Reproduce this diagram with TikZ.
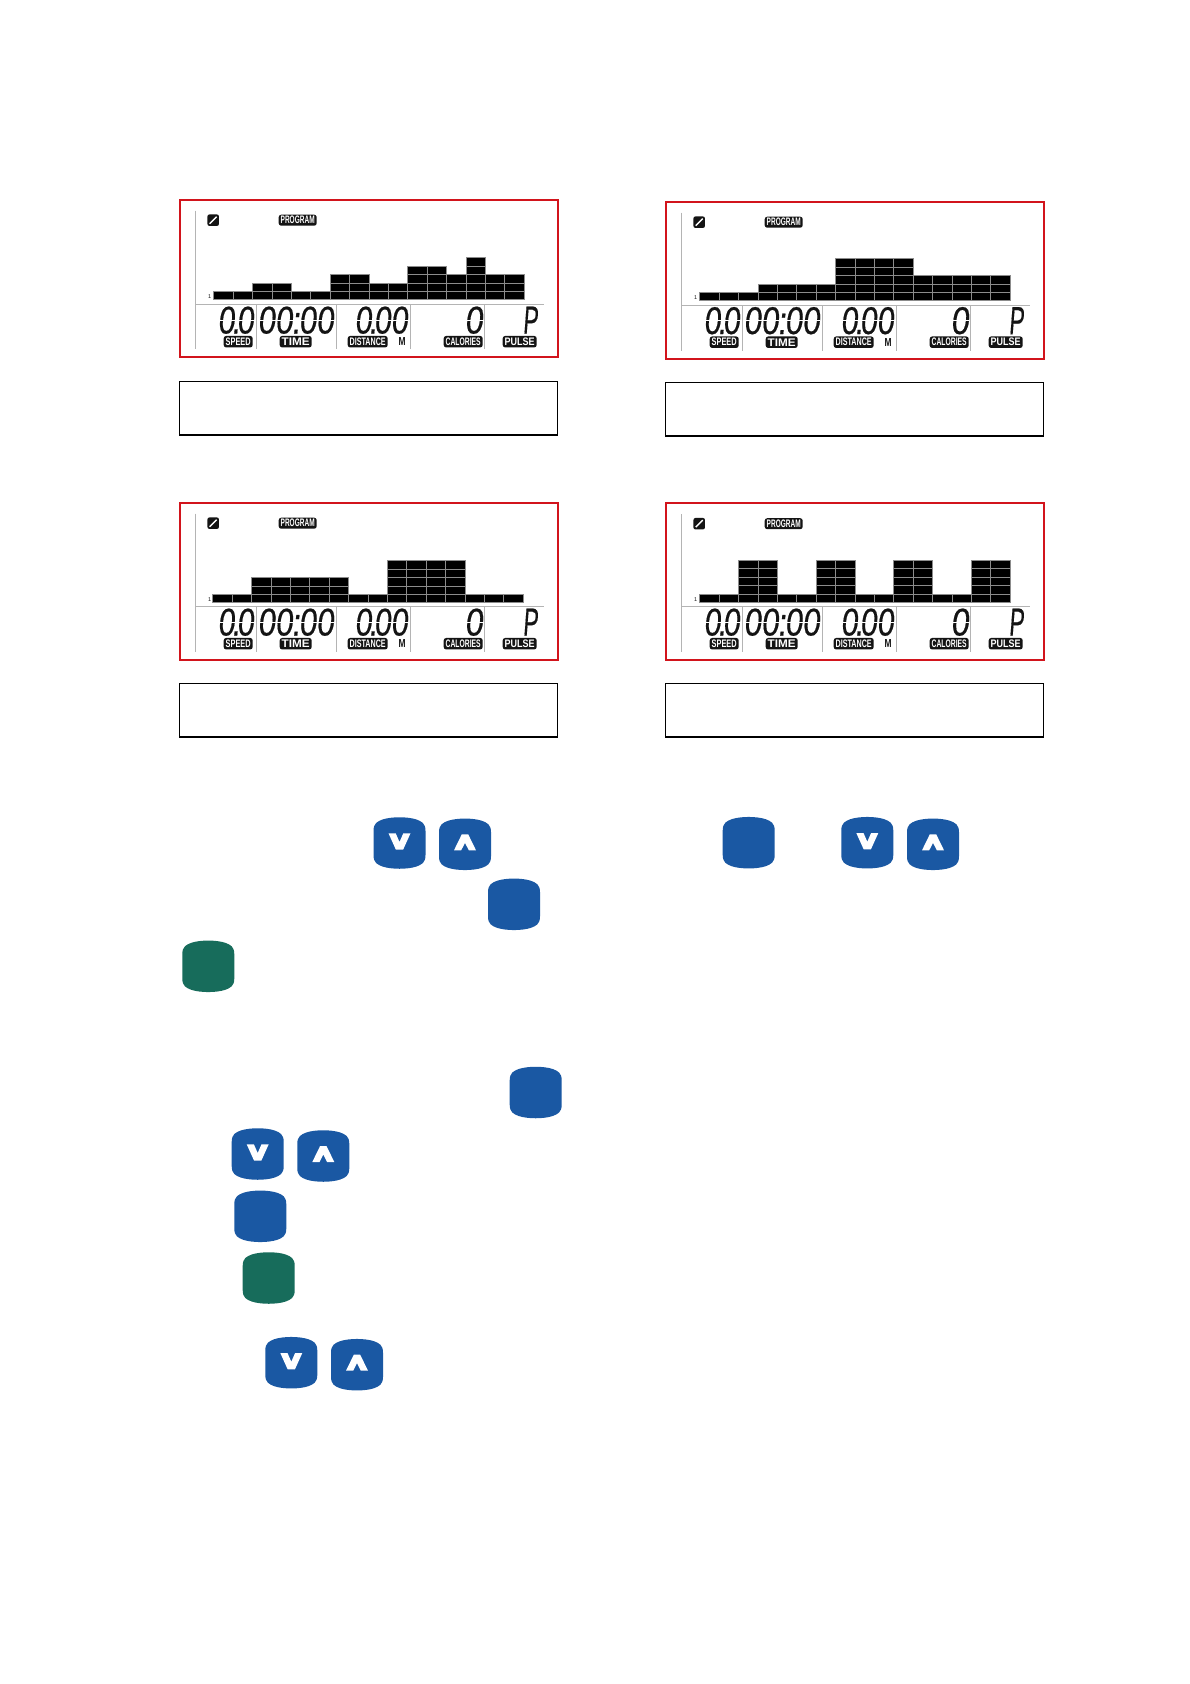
\documentclass[tikz,border=0pt]{standalone}
\usepackage{graphicx}
\usepackage{fontspec}
\setmainfont{Liberation Sans}
\newfontfamily\lcdfont{Liberation Sans}[FakeBold=0.5,FakeSlant=0.13]
\definecolor{btnblue}{HTML}{1A58A3}
\definecolor{btngreen}{HTML}{176C5B}
\definecolor{framered}{HTML}{D2141C}
\definecolor{lcdgray}{HTML}{B4B4B4}
\definecolor{lcdgrid}{HTML}{8C8C8C}
\definecolor{lcdink}{HTML}{141414}
\tikzset{
  redframe/.style={draw=framered,line width=1.6pt,minimum width=378pt,inner sep=0pt,outer sep=0pt,anchor=north west},
  capbox/.style={draw=black,line width=1.2pt,minimum width=378pt,minimum height=53.5pt,inner sep=0pt,outer sep=0pt,anchor=north west},
  lcdrule/.style={draw=lcdgray,line width=0.8pt},
  cellfill/.style={fill=black,draw=lcdgrid,line width=0.6pt},
  tagbox/.style={fill=lcdink,rounded corners=2.5pt,inner sep=0pt,text=white,font=\bfseries},
  digits/.style={inner sep=0pt,text=lcdink,font=\lcdfont},
  plaintag/.style={inner sep=0pt,text=lcdink}
}
% tag: name, left, right, centre y, text
\newcommand{\lcdtag}[5]{%
  \pgfmathsetmacro{\tw}{#3-#2}\pgfmathsetmacro{\tc}{(#3+#2)/2}%
  \node[tagbox,minimum width=\tw pt,minimum height=11.5pt] (#1) at (\tc,#4)
    {\resizebox{\dimexpr\tw pt-4pt\relax}{7.6pt}{#5}};}
% digit string: name, left, right, top, text
\newcommand{\lcdnum}[5]{%
  \pgfmathsetmacro{\tw}{#3-#2}\pgfmathsetmacro{\tc}{(#3+#2)/2}\pgfmathsetmacro{\ty}{#4+13.5}%
  \node[digits] (#1) at (\tc,\ty) {\resizebox{\tw pt}{27pt}{#5}};}
% white break across the digit strokes at mid height
\newcommand{\lcdbreak}[3]{\draw[white,line width=0.9pt] (#1,#3) -- (#2,#3);}
% panel: name, x, y, bar start, bar baseline, rule y, heights
\newcommand{\lcdpanel}[7]{%
\node[redframe,minimum height=157pt] (#1frame) at (#2,#3) {};
\begin{scope}[shift={(#2,#3)}]
  \pgfmathsetmacro{\ry}{#6}
  \draw[lcdrule] (16,11) -- (16,149);
  \draw[lcdrule] (16,\ry) -- (364,\ry);
  \foreach \dx in {77,157,231,305} \draw[lcdrule] (\dx,\ry) -- (\dx,149);
  \foreach \h [count=\i] in {#7} {
    \foreach \l in {1,...,\h} {
      \path[cellfill] ({#4+(\i-1)*19.4},{#5-(\l-1)*8.4}) rectangle ({#4+\i*19.4},{#5-\l*8.4});
    }
  }
  \node[fill=lcdink,rounded corners=2pt,minimum width=11.5pt,minimum height=11.5pt,inner sep=0pt] (#1icon) at (33.5,20.5) {};
  \draw[white,line width=1.3pt] (30,24) -- (37,17);
  \node[tagbox,minimum width=38pt,minimum height=11pt] (#1prog) at (118,20.5) {\resizebox{34pt}{7.6pt}{PROGRAM}};
  \node[plaintag,font=\fontsize{5.5}{6}\selectfont] (#1one) at (30,{#5-3}) {1};
  \pgfmathsetmacro{\dy}{\ry+2}
  \lcdnum{#1sp}{38}{74}{\dy}{0\kern-.1em.\kern-.1em0}
  \lcdnum{#1ti}{78}{154}{\dy}{00\kern-.04em:\kern-.04em00}
  \lcdnum{#1di}{175}{228}{\dy}{0\kern-.1em.\kern-.1em00}
  \lcdnum{#1ca}{285}{303}{\dy}{0}
  \lcdnum{#1pu}{343}{358}{\dy}{P}
  \pgfmathsetmacro{\my}{\ry+15.5}
  \lcdbreak{38}{74}{\my}
  \lcdbreak{78}{154}{\my}
  \lcdbreak{175}{228}{\my}
  \lcdbreak{285}{303}{\my}
  \pgfmathsetmacro{\ly}{\ry+37}
  \lcdtag{#1tsp}{44}{73}{\ly}{SPEED}
  \lcdtag{#1tti}{100}{132}{\ly}{TIME}
  \lcdtag{#1tdi}{168}{208}{\ly}{DISTANCE}
  \node[plaintag] (#1tm) at (222.5,\ly) {\resizebox{7pt}{8pt}{\bfseries M}};
  \lcdtag{#1tca}{264}{303}{\ly}{CALORIES}
  \lcdtag{#1tpu}{323}{357}{\ly}{PULSE}
\end{scope}}
\newcommand{\btnshape}{(-26,-12) .. controls (-26,-20) and (-22,-21.5) .. (-17,-23.5) .. controls (-8,-26.5) and (8,-26.5) .. (17,-23.5) .. controls (22,-21.5) and (26,-20) .. (26,-12) -- (26,12) .. controls (26,20) and (22,21.5) .. (17,23.5) .. controls (8,26.5) and (-8,26.5) .. (-17,23.5) .. controls (-22,21.5) and (-26,20) .. (-26,12) -- cycle}
\newcommand{\plainbtn}[3]{\fill[#3,shift={(#1,#2)}] \btnshape;}
\newcommand{\downbtn}[2]{\begin{scope}[shift={(#1,#2)}]\fill[btnblue] \btnshape;
  \fill[white] (-11,-9.7) -- (-3.8,-9.7) -- (0,-1) -- (3.8,-9.7) -- (11,-9.7) -- (3.6,6.7) -- (-3.6,6.7) -- cycle;\end{scope}}
\newcommand{\upbtn}[2]{\begin{scope}[shift={(#1,#2)}]\fill[btnblue] \btnshape;
  \fill[white] (-11,6) -- (-3.8,6) -- (0,-1.5) -- (3.8,6) -- (11,6) -- (3.2,-10) -- (-3.2,-10) -- cycle;\end{scope}}
\begin{document}
\begin{tikzpicture}[x=1pt,y=-1pt]
\useasboundingbox[fill=white] (0,0) rectangle (1190,1684);
\lcdpanel{a}{179.7}{199.7}{34}{100}{105}{1,1,2,2,1,1,3,3,2,2,4,4,3,5,3,3}
\lcdpanel{b}{665.7}{201.7}{34}{99}{103.5}{1,1,1,2,2,2,2,5,5,5,5,3,3,3,3,3}
\lcdpanel{c}{179.7}{502.7}{33}{100}{104}{1,1,3,3,3,3,3,1,1,5,5,5,5,1,1,1}
\lcdpanel{d}{665.7}{503.2}{34}{99}{103.5}{1,1,5,5,1,1,5,5,1,1,5,5,1,1,5,5}
\node[capbox] (acap) at (179.7,381.5) {};
\node[capbox] (bcap) at (665.7,382.5) {};
\node[capbox] (ccap) at (179.7,683.5) {};
\node[capbox] (dcap) at (665.7,683.5) {};
\downbtn{399.5}{843}
\upbtn{465}{844.3}
\plainbtn{748.7}{842.7}{btnblue}
\downbtn{867.3}{842.7}
\upbtn{933}{844.3}
\plainbtn{514}{904.3}{btnblue}
\plainbtn{208.3}{966.3}{btngreen}
\plainbtn{535.7}{1092.5}{btnblue}
\downbtn{257.7}{1154}
\upbtn{323.3}{1156}
\plainbtn{260.3}{1216.3}{btnblue}
\plainbtn{268.7}{1278}{btngreen}
\downbtn{291.3}{1362.7}
\upbtn{357}{1364.7}
\end{tikzpicture}
\end{document}
